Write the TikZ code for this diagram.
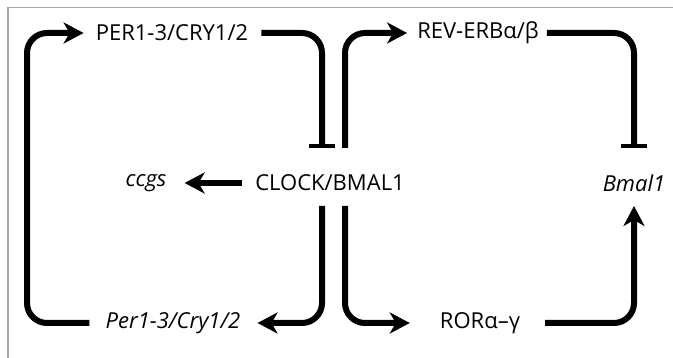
\documentclass[tikz,border=0pt]{standalone}
\usepackage{fontspec}
\setmainfont{Open Sans}
\usetikzlibrary{arrows.meta}

\begin{document}
\begin{tikzpicture}[x=1pt,y=-1pt,
    lbl/.style={inner sep=0pt, font=\fontsize{22}{24}\selectfont},
    gene/.style={lbl, font=\fontsize{22}{24}\selectfont\itshape},
    act/.style={line width=6pt, rounded corners=20pt, -{Stealth[length=20pt,width=21pt,inset=6pt]}},
    inh/.style={line width=6pt, rounded corners=20pt, -{Bar[width=26pt,line width=4pt]}}]
    \useasboundingbox (0,0) rectangle (673,358);
    % frame
    \draw[gray!70, line width=1.2pt] (8,358) -- (8,7.5) -- (673,7.5);

    % nodes
    \node[lbl] (perp) at (172,33) {PER1-3/CRY1/2};
    \node[gene] (perg) at (173,323) {Per1-3/Cry1/2};
    \node[lbl] (clock) at (330,183) {CLOCK/BMAL1};
    \node[gene] (ccgs) at (146,183) {ccgs};
    \node[lbl] (reverb) at (478,33) {REV-ERBα/β};
    \node[gene] (bmal) at (634,183) {Bmal1};
    \node[lbl] (ror) at (480,323) {RORα–γ};

    \coordinate (lb) at (27,323);
    \coordinate (lt) at (27,33);
    \coordinate (tl) at (322,148);
    \coordinate (dl) at (322,206);
    \coordinate (tr) at (345,148);
    \coordinate (dr) at (345,206);

    % left loop
    \draw[act] ([xshift=-16pt]perg.west) -- (lb) -- (lt) -- ([xshift=-12pt]perp.west);
    \draw[inh] ([xshift=13pt]perp.east) -| (tl);
    \draw[act] (dl) |- ([xshift=17pt]perg.east);
    \draw[act] ([xshift=-13pt]clock.west) -- ([xshift=18pt]ccgs.east);

    % right loop
    \draw[act] (tr) |- ([xshift=-10pt]reverb.west);
    \draw[inh] ([xshift=8pt]reverb.east) -| ([yshift=35pt]bmal.center);
    \draw[act] (dr) |- ([xshift=-30pt]ror.west);
    \draw[act] ([xshift=25pt]ror.east) -| ([yshift=-23pt]bmal.center);
\end{tikzpicture}
\end{document}
